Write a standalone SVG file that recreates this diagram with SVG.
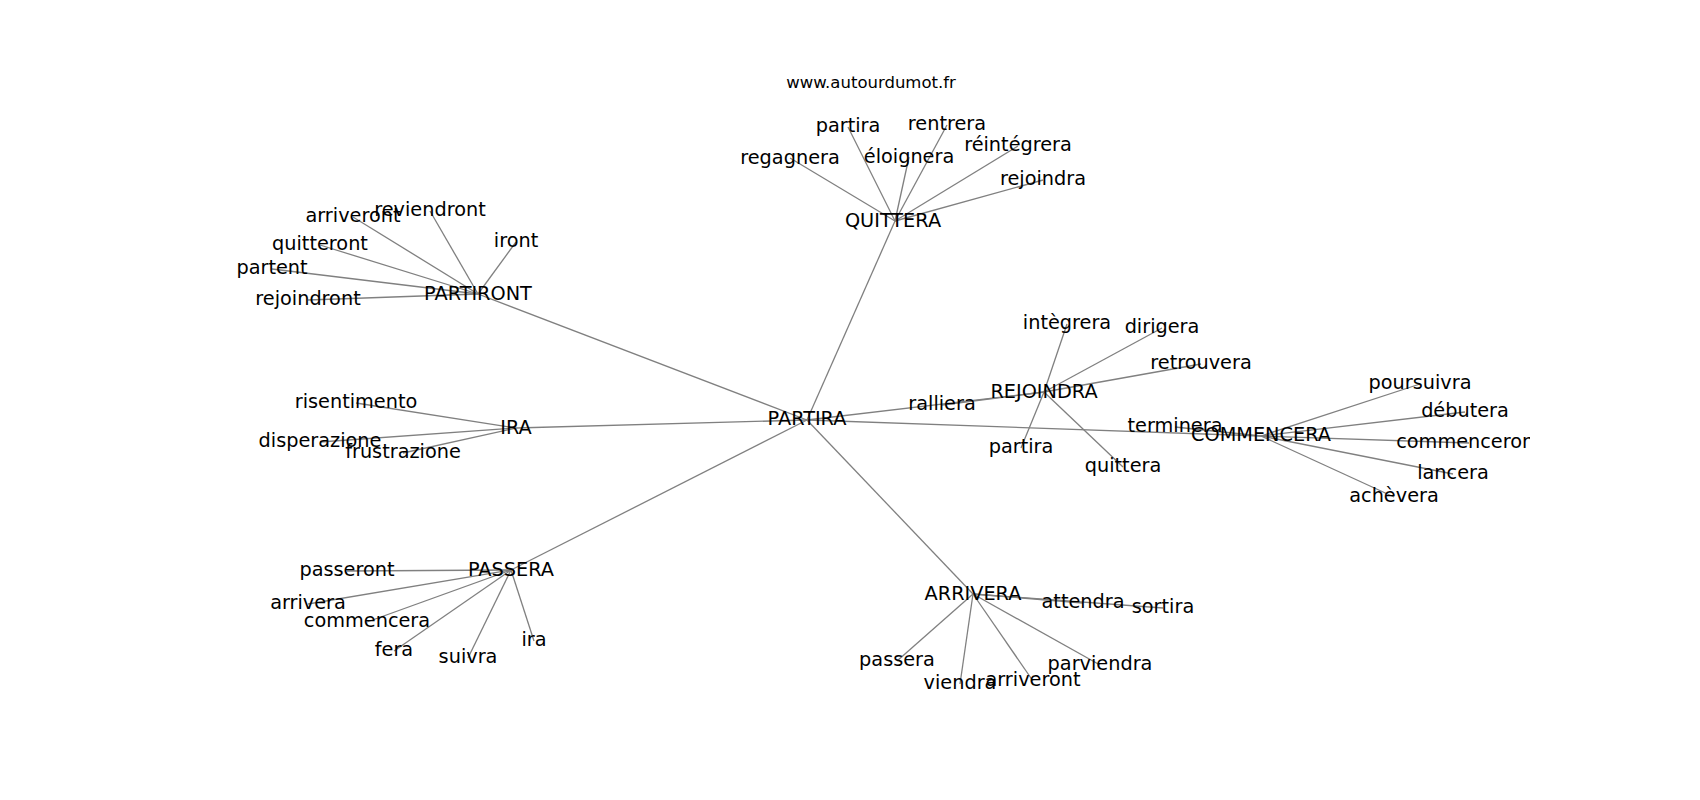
<svg xmlns="http://www.w3.org/2000/svg" width="1700" height="800" viewBox="0 0 1700 800">
<defs>
<style>
text{font-family:"DejaVu Sans","Liberation Sans",sans-serif;fill:#000;text-anchor:middle}
.lbl{font-size:19.3px}
.title{font-size:16.5px}
.edges line{stroke:#808080;stroke-width:1.3}
</style>
<clipPath id="axes"><rect x="212.5" y="96" width="1317.5" height="616"/></clipPath>
</defs>
<rect width="1700" height="800" fill="#fff"/>
<text class="title" x="871" y="88">www.autourdumot.fr</text>
<g id="edges" class="edges">
<line x1="807" y1="420" x2="895" y2="221"/>
<line x1="807" y1="420" x2="478" y2="294"/>
<line x1="807" y1="420" x2="516" y2="428"/>
<line x1="807" y1="420" x2="511" y2="570"/>
<line x1="807" y1="420" x2="973" y2="594"/>
<line x1="807" y1="420" x2="1044" y2="392"/>
<line x1="807" y1="420" x2="1261" y2="436"/>
<line x1="895" y1="221" x2="790" y2="158"/>
<line x1="895" y1="221" x2="848" y2="127"/>
<line x1="895" y1="221" x2="909" y2="157"/>
<line x1="895" y1="221" x2="947" y2="125"/>
<line x1="895" y1="221" x2="1018" y2="146"/>
<line x1="895" y1="221" x2="1043" y2="180"/>
<line x1="478" y1="294" x2="353" y2="217"/>
<line x1="478" y1="294" x2="430" y2="211"/>
<line x1="478" y1="294" x2="516" y2="242"/>
<line x1="478" y1="294" x2="320" y2="245"/>
<line x1="478" y1="294" x2="272" y2="269"/>
<line x1="478" y1="294" x2="308" y2="300"/>
<line x1="516" y1="428" x2="356" y2="403"/>
<line x1="516" y1="428" x2="320" y2="442"/>
<line x1="516" y1="428" x2="403" y2="453"/>
<line x1="511" y1="570" x2="347" y2="571"/>
<line x1="511" y1="570" x2="308" y2="604"/>
<line x1="511" y1="570" x2="367" y2="622"/>
<line x1="511" y1="570" x2="394" y2="651"/>
<line x1="511" y1="570" x2="468" y2="658"/>
<line x1="511" y1="570" x2="534" y2="641"/>
<line x1="973" y1="594" x2="1083" y2="603"/>
<line x1="973" y1="594" x2="1163" y2="608"/>
<line x1="973" y1="594" x2="897" y2="661"/>
<line x1="973" y1="594" x2="960" y2="684"/>
<line x1="973" y1="594" x2="1033" y2="681"/>
<line x1="973" y1="594" x2="1100" y2="665"/>
<line x1="1044" y1="392" x2="1067" y2="324"/>
<line x1="1044" y1="392" x2="1162" y2="328"/>
<line x1="1044" y1="392" x2="1201" y2="364"/>
<line x1="1044" y1="392" x2="942" y2="405"/>
<line x1="1044" y1="392" x2="1021" y2="448"/>
<line x1="1044" y1="392" x2="1123" y2="467"/>
<line x1="1261" y1="436" x2="1420" y2="384"/>
<line x1="1261" y1="436" x2="1465" y2="412"/>
<line x1="1261" y1="436" x2="1469" y2="443"/>
<line x1="1261" y1="436" x2="1453" y2="474"/>
<line x1="1261" y1="436" x2="1394" y2="497"/>
<line x1="1261" y1="436" x2="1175" y2="427"/>
</g>
<g id="n-partira"><text class="lbl" x="807" y="425">PARTIRA</text></g>
<g id="n-quittera"><text class="lbl" x="893" y="227">QUITTERA</text></g>
<g id="n-partiront"><text class="lbl" x="478" y="300">PARTIRONT</text></g>
<g id="n-ira"><text class="lbl" x="516" y="434">IRA</text></g>
<g id="n-passera"><text class="lbl" x="511" y="576">PASSERA</text></g>
<g id="n-arrivera"><text class="lbl" x="973" y="600">ARRIVERA</text></g>
<g id="n-rejoindra"><text class="lbl" x="1044" y="398">REJOINDRA</text></g>
<g id="n-commencera"><text class="lbl" x="1261" y="441">COMMENCERA</text></g>
<g id="n-q-regagnera"><text class="lbl" x="790" y="164">regagnera</text></g>
<g id="n-q-partira"><text class="lbl" x="848" y="132">partira</text></g>
<g id="n-q-eloignera"><text class="lbl" x="909" y="163">éloignera</text></g>
<g id="n-q-rentrera"><text class="lbl" x="947" y="130">rentrera</text></g>
<g id="n-q-reintegrera"><text class="lbl" x="1018" y="151">réintégrera</text></g>
<g id="n-q-rejoindra"><text class="lbl" x="1043" y="185">rejoindra</text></g>
<g id="n-p-arriveront"><text class="lbl" x="353" y="222">arriveront</text></g>
<g id="n-p-reviendront"><text class="lbl" x="430" y="216">reviendront</text></g>
<g id="n-p-iront"><text class="lbl" x="516" y="247">iront</text></g>
<g id="n-p-quitteront"><text class="lbl" x="320" y="250">quitteront</text></g>
<g id="n-p-partent"><text class="lbl" x="272" y="274">partent</text></g>
<g id="n-p-rejoindront"><text class="lbl" x="308" y="305">rejoindront</text></g>
<g id="n-i-risentimento"><text class="lbl" x="356" y="408">risentimento</text></g>
<g id="n-i-disperazione"><text class="lbl" x="320" y="447">disperazione</text></g>
<g id="n-i-frustrazione"><text class="lbl" x="403" y="458">frustrazione</text></g>
<g id="n-s-passeront"><text class="lbl" x="347" y="576">passeront</text></g>
<g id="n-s-arrivera"><text class="lbl" x="308" y="609">arrivera</text></g>
<g id="n-s-commencera"><text class="lbl" x="367" y="627">commencera</text></g>
<g id="n-s-fera"><text class="lbl" x="394" y="656">fera</text></g>
<g id="n-s-suivra"><text class="lbl" x="468" y="663">suivra</text></g>
<g id="n-s-ira"><text class="lbl" x="534" y="646">ira</text></g>
<g id="n-a-attendra"><text class="lbl" x="1083" y="608">attendra</text></g>
<g id="n-a-sortira"><text class="lbl" x="1163" y="613">sortira</text></g>
<g id="n-a-passera"><text class="lbl" x="897" y="666">passera</text></g>
<g id="n-a-viendra"><text class="lbl" x="960" y="689">viendra</text></g>
<g id="n-a-arriveront"><text class="lbl" x="1033" y="686">arriveront</text></g>
<g id="n-a-parviendra"><text class="lbl" x="1100" y="670">parviendra</text></g>
<g id="n-r-integrera"><text class="lbl" x="1067" y="329">intègrera</text></g>
<g id="n-r-dirigera"><text class="lbl" x="1162" y="333">dirigera</text></g>
<g id="n-r-retrouvera"><text class="lbl" x="1201" y="369">retrouvera</text></g>
<g id="n-r-ralliera"><text class="lbl" x="942" y="410">ralliera</text></g>
<g id="n-r-partira"><text class="lbl" x="1021" y="453">partira</text></g>
<g id="n-r-quittera"><text class="lbl" x="1123" y="472">quittera</text></g>
<g id="n-c-poursuivra"><text class="lbl" x="1420" y="389">poursuivra</text></g>
<g id="n-c-debutera"><text class="lbl" x="1465" y="417">débutera</text></g>
<g id="n-c-commenceront" clip-path="url(#axes)"><text class="lbl" x="1469" y="448">commenceront</text></g>
<g id="n-c-lancera"><text class="lbl" x="1453" y="479">lancera</text></g>
<g id="n-c-achevera"><text class="lbl" x="1394" y="502">achèvera</text></g>
<g id="n-c-terminera"><text class="lbl" x="1175" y="432">terminera</text></g>
</svg>
